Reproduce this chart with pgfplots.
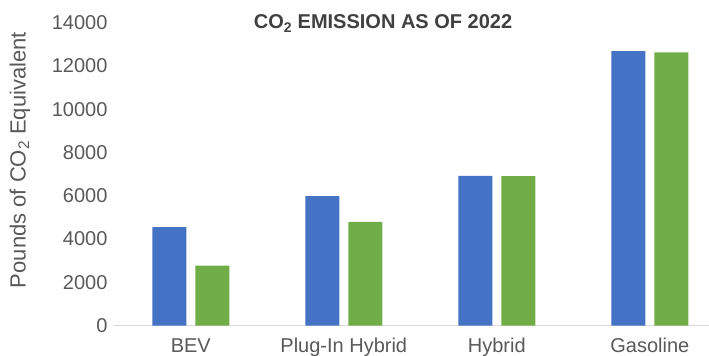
\documentclass[border=0pt]{standalone}
\usepackage{pgfplots}
\pgfplotsset{compat=1.18}
\usepackage{fontspec}
\setmainfont{Liberation Sans}
\definecolor{barblue}{HTML}{4472C4}
\definecolor{bargreen}{HTML}{70AD47}
\definecolor{txtgray}{HTML}{595959}
\definecolor{titlegray}{HTML}{404040}
\definecolor{axgray}{HTML}{D9D9D9}
\begin{document}
\fontsize{20bp}{24bp}\selectfont
\begin{tikzpicture}
\useasboundingbox (0,0) rectangle (709bp,356bp);
\begin{axis}[
 at={(114.3bp,30.3bp)}, anchor=south west,
 scale only axis, width=594.7bp, height=303.1bp,
 xmin=-0.5, xmax=3.387, ymin=0, ymax=14000,
 ybar=9bp, bar width=34bp,
 axis x line=bottom, axis y line=left,
 x axis line style={draw=axgray, line width=1.5bp, -},
 y axis line style={draw=none},
 xtick={0,1,2,3}, xticklabels={BEV, Plug-In Hybrid, Hybrid, Gasoline},
 ytick={0,2000,...,14000},
 major tick length=0,
 scaled y ticks=false,
 /pgf/number format/1000 sep={},
 /pgf/number format/assume math mode=true,
 tick label style={font=\fontsize{20bp}{24bp}\selectfont, text=txtgray},
 xticklabel style={text height=14.5bp, text depth=4bp, yshift=-5.5bp},
 clip=false,
]
\addplot[fill=barblue, draw=none] coordinates {(0,4550) (1,5980) (2,6920) (3,12680)};
\addplot[fill=bargreen, draw=none] coordinates {(0,2770) (1,4790) (2,6910) (3,12630)};
\end{axis}
\node[rotate=90, anchor=base, text=txtgray, inner sep=0pt, font=\fontsize{22bp}{26bp}\selectfont] at (25.5bp,196bp) {Pounds of CO\textsubscript{2} Equivalent};
\node[anchor=base, text=titlegray, inner sep=0pt, font=\bfseries] at (383bp,327bp) {CO\textsubscript{2} EMISSION AS OF 2022};
\end{tikzpicture}
\end{document}
